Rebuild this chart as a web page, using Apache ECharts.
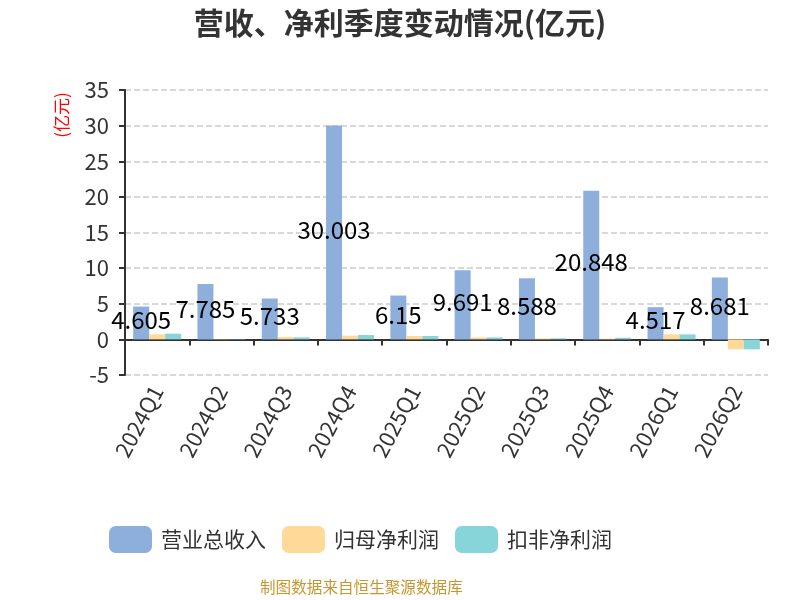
<!DOCTYPE html>
<html>
<head>
<meta charset="utf-8">
<script src="https://cdn.jsdelivr.net/npm/echarts@6/dist/echarts.min.js"></script>
<style>html,body{margin:0;padding:0;background:#fff}#c{width:800px;height:600px}</style>
</head>
<body>
<div id="c"></div>
<script>
var categories = ['2024Q1','2024Q2','2024Q3','2024Q4','2025Q1','2025Q2','2025Q3','2025Q4','2026Q1','2026Q2'];
var revenue = [4.605, 7.785, 5.733, 30.003, 6.15, 9.691, 8.588, 20.848, 4.517, 8.681];
var netProfit = [0.7, 0.05, 0.33, 0.52, 0.47, 0.28, 0.14, 0.1, 0.7, -1.4];
var deductedProfit = [0.8, 0.05, 0.28, 0.61, 0.47, 0.28, 0.14, 0.23, 0.7, -1.4];
var seriesNames = ['营业总收入', '归母净利润', '扣非净利润'];
var yTicks = {min: -5, max: 35, interval: 5};

var font = '"Noto Sans CJK SC", "Noto Sans", sans-serif';
var chart = echarts.init(document.getElementById('c'));
chart.setOption({
  animation: false,
  textStyle: {fontFamily: font},
  title: {
    text: '营收、净利季度变动情况(亿元)',
    left: 'center', top: 3,
    textStyle: {fontSize: 30, fontWeight: 'bold', color: '#333', fontFamily: font}
  },
  legend: {
    left: 104, top: 521,
    itemWidth: 43, itemHeight: 27, itemGap: 16,
    icon: 'roundRect',
    textStyle: {fontSize: 21, color: '#333', fontFamily: font, padding: [0, 0, 0, 4]},
    data: seriesNames
  },
  grid: {left: 125, right: 32, top: 90, bottom: 225},
  xAxis: {
    type: 'category',
    data: categories,
    axisLine: {onZero: true, lineStyle: {color: '#333', width: 2}},
    axisTick: {show: true, length: 6, lineStyle: {color: '#333', width: 2}},
    axisLabel: {rotate: 62, fontSize: 22, color: '#333', margin: 12, interval: 0, fontFamily: font}
  },
  yAxis: {
    type: 'value',
    min: yTicks.min, max: yTicks.max, interval: yTicks.interval,
    axisLine: {show: true, lineStyle: {color: '#333', width: 2}},
    axisTick: {show: true, length: 6, lineStyle: {color: '#333', width: 2}},
    axisLabel: {fontSize: 22, color: '#333', margin: 16, fontFamily: font},
    splitLine: {show: true, lineStyle: {type: 'dashed', color: '#ccc', width: 1.5}}
  },
  graphic: [
    {type: 'text', x: 62, y: 115, rotation: Math.PI / 2,
     style: {text: '(亿元)', fill: '#ff0000', fontSize: 17, fontFamily: font, textAlign: 'center', textVerticalAlign: 'middle'}},
    {type: 'text', left: 260, top: 579,
     style: {text: '制图数据来自恒生聚源数据库', fill: '#c8962e', fontSize: 15.6, fontFamily: font}}
  ],
  series: [
    {name: seriesNames[0], type: 'bar', data: revenue, barWidth: 16, barGap: '0%',
     itemStyle: {color: '#8eafdc'},
     label: {show: true, position: 'inside', color: '#000', fontSize: 24, fontFamily: font, offset: [0, -3]}},
    {name: seriesNames[1], type: 'bar', data: netProfit, barWidth: 16, barGap: '0%',
     itemStyle: {color: '#ffd997'}},
    {name: seriesNames[2], type: 'bar', data: deductedProfit, barWidth: 16, barGap: '0%',
     itemStyle: {color: '#87d5d8'}}
  ]
});
</script>
</body>
</html>
